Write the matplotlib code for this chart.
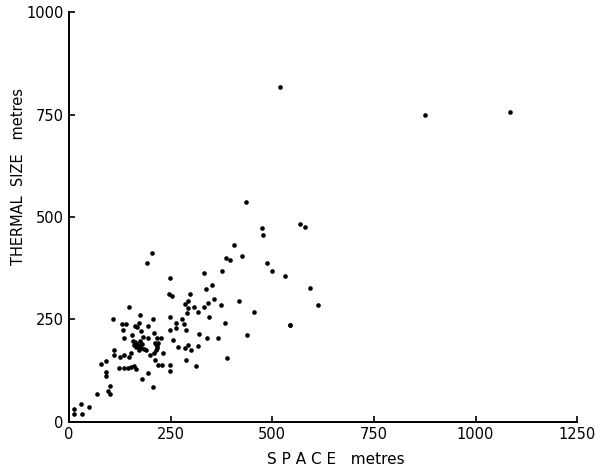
import numpy as np
import matplotlib
matplotlib.use('Agg')
import matplotlib.pyplot as plt

# Space between thermals vs thermal size (metres)
space = [
    12, 12, 31, 30, 50, 68, 97, 101, 101, 206,
    92, 92, 180, 195,
    124, 136, 145, 153, 160, 165,
    78, 92, 110, 111, 125, 136, 153, 147, 210, 213,
    109, 148, 174, 131, 140, 172, 195, 206, 134, 167, 162, 176, 209,
    155, 136, 182, 195,
    158, 163, 168, 172, 176, 160, 166, 175, 180, 185, 172, 190, 200,
    249, 331, 376, 351, 337, 247, 254, 298, 357, 418, 293, 285, 343, 373,
    308, 292, 332, 317, 291, 454, 344, 249, 279, 263, 282, 384, 263, 287,
    249, 319, 339, 367, 438, 216, 226, 255,
    212, 214, 217, 220, 217,
    267, 285, 294, 317, 299, 231, 389, 212, 287, 219, 230, 249, 249, 312,
    426, 406, 387, 395, 205, 191, 435, 543,
    476, 477, 568, 581, 488, 500, 532, 594, 612, 544,
    518, 875, 1085,
]
thermal = [
    31, 18, 19, 43, 37, 68, 74, 87, 67, 85,
    122, 111, 104, 120,
    130, 130, 130, 134, 137, 128,
    140, 148, 174, 163, 157, 163, 167, 159, 168, 174,
    250, 281, 260, 238, 238, 242, 234, 251, 225, 232, 233, 222, 216,
    213, 204, 208, 204,
    198, 194, 190, 185, 181, 187, 183, 196, 190, 178, 175, 175, 163,
    352, 363, 369, 335, 323, 312, 306, 312, 300, 296, 295, 287, 291, 286,
    281, 278, 280, 269, 265, 268, 256, 256, 251, 242, 239, 242, 230, 223,
    223, 214, 205, 205, 212, 205, 205, 200,
    193, 189, 186, 193, 181,
    182, 180, 187, 186, 174, 167, 156, 151, 151, 138, 138, 138, 124, 135,
    404, 431, 401, 394, 413, 388, 537, 236,
    474, 455, 482, 476, 387, 367, 357, 326, 286, 237,
    818, 750, 757,
]

fig = plt.figure(figsize=(6.05, 4.71), dpi=100)
ax = fig.add_axes([0.114, 0.1047, 0.840, 0.869])

ax.scatter(space, thermal, s=11, c='black', marker='o', linewidths=0)

ax.set_xlim(0, 1250)
ax.set_ylim(0, 1000)
ax.set_xticks([0, 250, 500, 750, 1000, 1250])
ax.set_yticks([0, 250, 500, 750, 1000])

for s in ['top', 'right']:
    ax.spines[s].set_visible(False)
for s in ['left', 'bottom']:
    ax.spines[s].set_linewidth(1.4)

ax.tick_params(direction='in', length=4, width=1.2, labelsize=10.5, pad=4)

ax.set_xlabel('S P A C E   metres', fontsize=11)
ax.set_ylabel('THERMAL  SIZE   metres', fontsize=10.5)
ax.xaxis.set_label_coords(0.526, -0.075)
ax.yaxis.set_label_coords(-0.085, 0.6)

fig.savefig('out.png', dpi=100)
